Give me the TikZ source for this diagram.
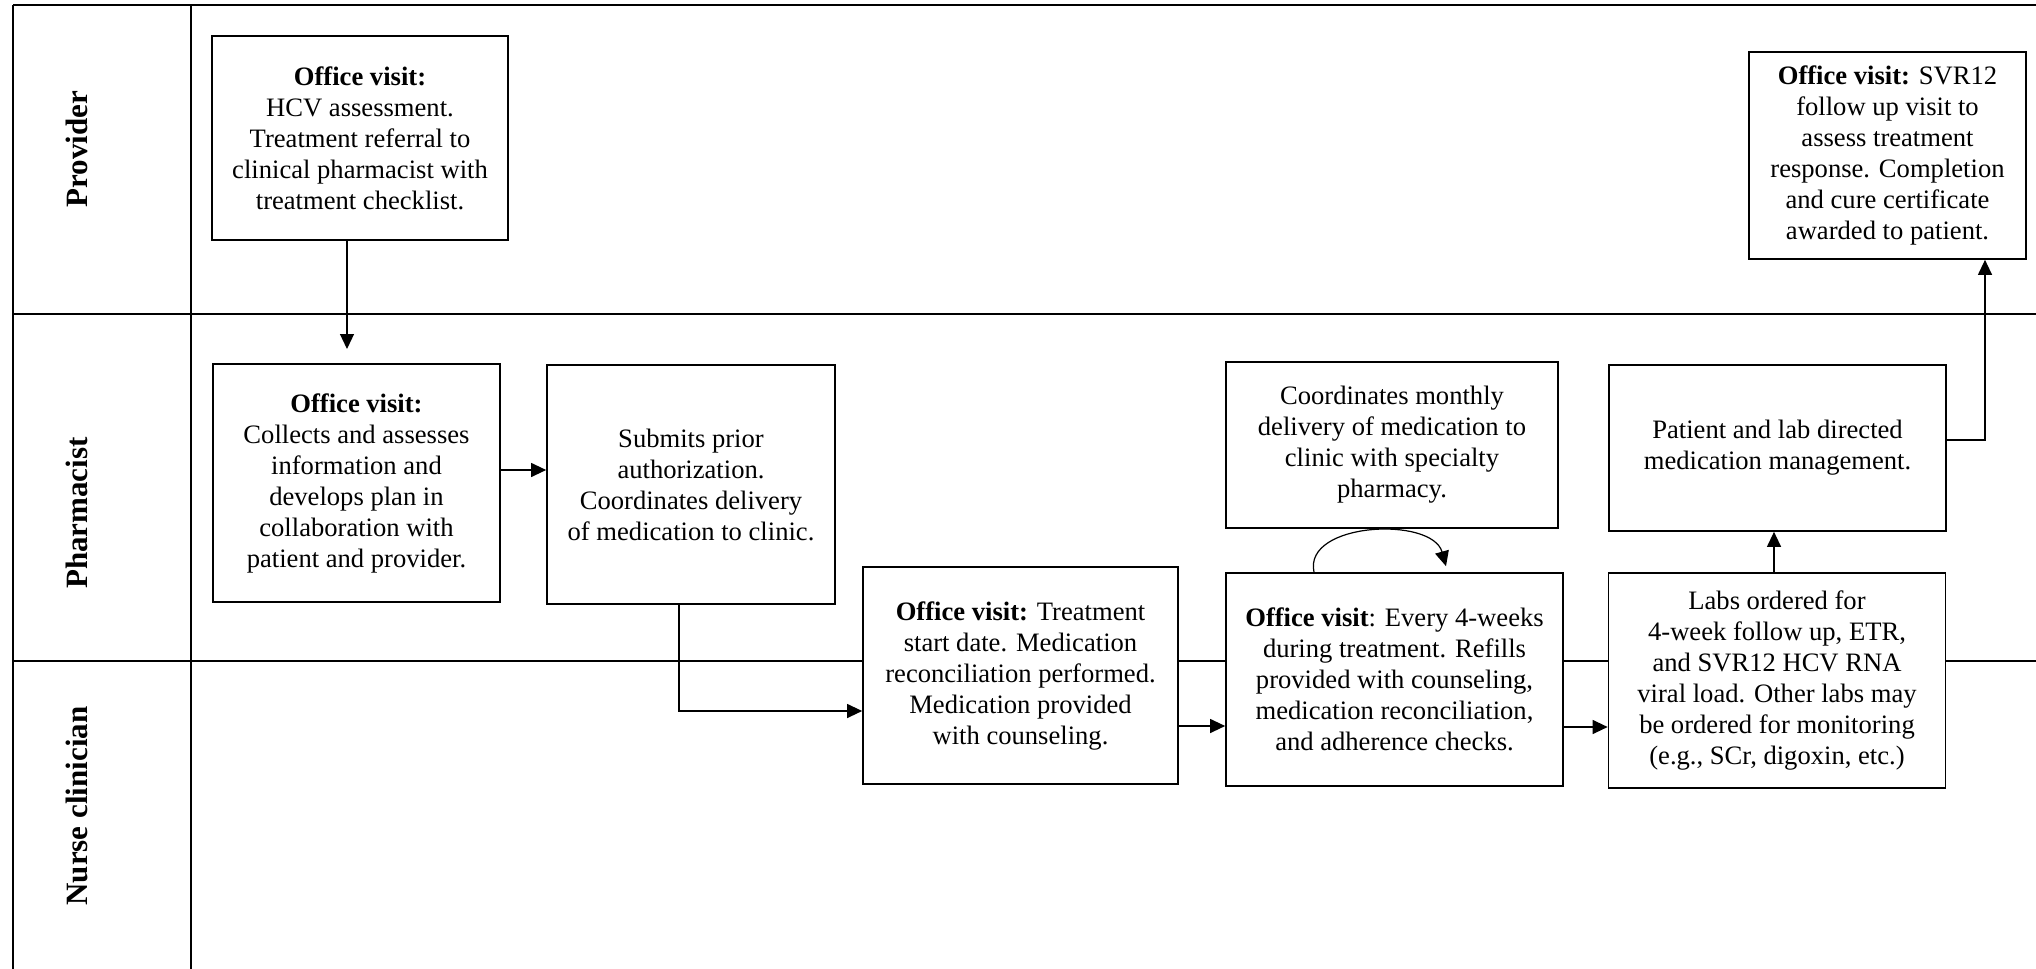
\documentclass[tikz,border=0pt]{standalone}
\usepackage{fontspec}
\setmainfont{Liberation Serif}
\usetikzlibrary{arrows.meta}

\begin{document}
\begin{tikzpicture}[x=0.5pt,y=-0.5pt,
				box/.style={draw, line width=0.85pt, fill=white, align=center, inner sep=0pt,
					font=\fontsize{13.3}{15.5}\selectfont},
				lane/.style={line width=1.4pt},
				arr/.style={line width=0.6pt, -{Triangle[length=7.5pt,width=7pt]}},
				who/.style={rotate=90, font=\fontsize{15.5}{18}\selectfont\bfseries}]
				\useasboundingbox (0,0) rectangle (2036,969);
				% swim lanes
				\draw[lane] (13,5) -- (2036,5);
				\draw[lane] (13,314) -- (2036,314);
				\draw[lane] (13,661) -- (2036,661);
				\draw[lane] (13,5) -- (13,969);
				\draw[lane] (191,5) -- (191,969);
				\node[who] (provider) at (77,149) {Provider};
				\node[who] (pharmacist) at (77,513) {Pharmacist};
				\node[who] (nurse) at (77,806) {Nurse clinician};
				% steps
				\node[box, minimum width=148pt, minimum height=102pt] (visit) at (360,138)
				{\textbf{Office visit:}\\HCV assessment.\\Treatment referral to\\clinical pharmacist with\\treatment checklist.};
				\node[box, minimum width=138.5pt, minimum height=103.5pt] (svrvisit) at (1887.5,155.5)
				{\textbf{Office visit:} SVR12\\follow up visit to\\assess treatment\\response. Completion\\and cure certificate\\awarded to patient.};
				\node[box, minimum width=143.5pt, minimum height=119pt] (collect) at (356.5,483)
				{\textbf{Office visit:}\\Collects and assesses\\information and\\develops plan in\\collaboration with\\patient and provider.};
				\node[box, minimum width=144pt, minimum height=119.5pt] (submit) at (691,484.5)
				{Submits prior\\authorization.\\Coordinates delivery\\of medication to clinic.};
				\node[box, minimum width=166pt, minimum height=83pt] (monthly) at (1392,445)
				{Coordinates monthly\\delivery of medication to\\clinic with specialty\\pharmacy.};
				\node[box, minimum width=168.5pt, minimum height=83pt] (manage) at (1777.5,448)
				{Patient and lab directed\\medication management.};
				\node[box, minimum width=157.5pt, minimum height=108.5pt] (startvisit) at (1020.5,675.5)
				{\textbf{Office visit:} Treatment\\start date. Medication\\reconciliation performed.\\Medication provided\\with counseling.};
				\node[box, minimum width=168.5pt, minimum height=106.5pt] (monthvisit) at (1394.5,679.5)
				{\textbf{Office visit}: Every 4-weeks\\during treatment. Refills\\provided with counseling,\\medication reconciliation,\\and adherence checks.};
				\node[box, minimum width=168.5pt, minimum height=107.5pt] (labs) at (1777,680.5)
				{Labs ordered for\\4-week follow up, ETR,\\and SVR12 HCV RNA\\viral load. Other labs may\\be ordered for monitoring\\(e.g., SCr, digoxin, etc.)};
				% connectors
				\coordinate (refer) at (347,349);
				\coordinate (toclinic) at (679,711);
				\coordinate (tosvr) at (1985,440);
				\draw[arr] (visit.south -| refer) -- (refer);
				\draw[arr] (collect.east |- 0,470) -- (submit.west |- 0,470);
				\draw[arr] (submit.south -| toclinic) |- (startvisit.west |- toclinic);
				\draw[arr] (startvisit.east |- 0,726) -- (monthvisit.west |- 0,726);
				\draw[arr] (monthvisit.east |- 0,727) -- (labs.west |- 0,727);
				\draw[arr] (labs.north -| 1774,0) -- (manage.south -| 1774,0);
				\draw[arr] (manage.east |- tosvr) -| (svrvisit.south -| tosvr);
				\draw[arr] ([xshift=-40.25pt]monthvisit.north) .. controls (1303,522) and (1432,516) .. ([xshift=25.75pt,yshift=3pt]monthvisit.north);
		\end{tikzpicture}
\end{document}
